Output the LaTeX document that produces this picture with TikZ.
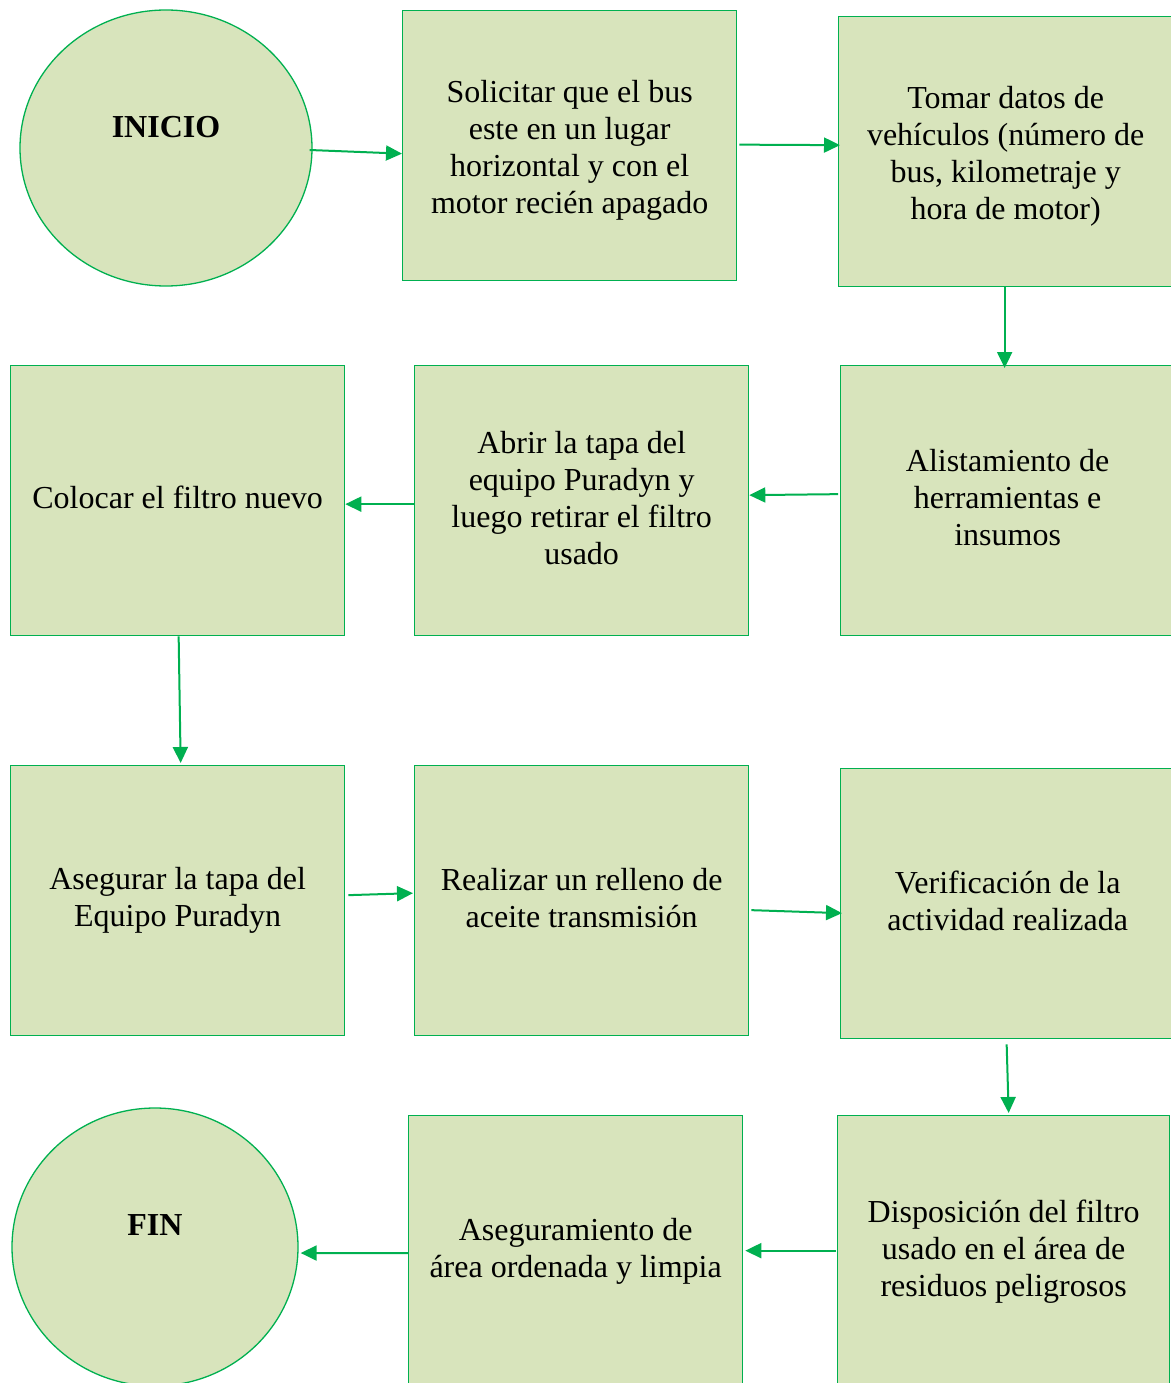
\documentclass[tikz,border=0pt]{standalone}
\usepackage{fontspec}
\setmainfont{Liberation Serif}
\usetikzlibrary{arrows.meta,shapes.geometric}
\definecolor{boxfill}{HTML}{D8E4BC}
\definecolor{edgegreen}{HTML}{00B050}
\begin{document}
\begin{tikzpicture}[x=1pt,y=-1pt,
  stepbox/.style={draw=edgegreen, fill=boxfill, line width=1.3pt,
    minimum width=334pt, minimum height=270pt, anchor=north west,
    inner sep=0pt},
  steptext/.style={align=center, inner sep=0pt,
    font=\fontsize{32}{37}\selectfont},
  endpoint/.style={ellipse, draw=edgegreen, fill=boxfill, line width=1.3pt,
    inner sep=0pt},
  endlabel/.style={font=\bfseries\fontsize{32}{37}\selectfont},
  arr/.style={draw=edgegreen, line width=2pt,
    -{Triangle[length=16pt,width=15pt]}}]
\useasboundingbox (0,0) rectangle (1170,1383);

% start and end
\node[endpoint, minimum width=292pt, minimum height=276pt] (inicio) at (166,148) {};
\node[endlabel] (inicioT) at (166,127) {INICIO};
\node[endpoint, minimum width=286pt, minimum height=278pt] (fin) at (155,1247) {};
\node[endlabel] (finT) at (155,1225) {FIN};

% boxes
\node[stepbox] (b1) at (402,10) {};
\node[stepbox] (b2) at (838,16) {};
\node[stepbox] (b3) at (840,365) {};
\node[stepbox] (b4) at (414,365) {};
\node[stepbox] (b5) at (10,365) {};
\node[stepbox] (b6) at (10,765) {};
\node[stepbox] (b7) at (414,765) {};
\node[stepbox] (b8) at (840,768) {};
\node[stepbox, minimum width=332pt, minimum height=275pt] (b9) at (837,1115) {};
\node[stepbox, minimum height=275pt] (b10) at (408,1115) {};

% box texts
\node[steptext] (t1) at ([yshift=-5pt]b1.center) {Solicitar que el bus\\este en un lugar\\horizontal y con el\\motor recién apagado};
\node[steptext] (t2) at ([yshift=-5pt]b2.center) {Tomar datos de\\vehículos (número de\\bus, kilometraje y\\hora de motor)};
\node[steptext] (t3) at ([yshift=3pt]b3.center) {Alistamiento de\\herramientas e\\insumos};
\node[steptext] (t4) at ([yshift=3pt]b4.center) {Abrir la tapa del\\equipo Puradyn y\\luego retirar el filtro\\usado};
\node[steptext] (t5) at ([yshift=3pt]b5.center) {Colocar el filtro nuevo};
\node[steptext] (t6) at (b6.center) {Asegurar la tapa del\\Equipo Puradyn};
\node[steptext] (t7) at ([yshift=3pt]b7.center) {Realizar un relleno de\\aceite transmisión};
\node[steptext] (t8) at ([yshift=3pt]b8.center) {Verificación de la\\actividad realizada};
\node[steptext] (t9) at ([yshift=1.5pt]b9.center) {Disposición del filtro\\usado en el área de\\residuos peligrosos};
\node[steptext] (t10) at ([yshift=2pt]b10.center) {Aseguramiento de\\área ordenada y limpia};

% connectors
\draw[arr] ([xshift=-3pt,yshift=-2pt]inicio.east) -- ([yshift=-8pt]b1.west);
\draw[arr] ([xshift=2pt,yshift=1pt]b1.east) -- ([xshift=2pt,yshift=6.5pt]b2.west);
\draw[arr] ([xshift=-1pt]b2.south) -- ([xshift=-3pt,yshift=-3pt]b3.north);
\draw[arr] ([xshift=-2pt,yshift=6.5pt]b3.west) -- ([yshift=5.5pt]b4.east);
\draw[arr] ([yshift=-3.5pt]b4.west) -- ([yshift=-3.5pt]b5.east);
\draw[arr] ([xshift=1pt]b5.south) -- ([xshift=3pt,yshift=2pt]b6.north);
\draw[arr] ([xshift=3pt,yshift=5.5pt]b6.east) -- ([xshift=-1pt,yshift=7.5pt]b7.west);
\draw[arr] ([xshift=2pt,yshift=-9.5pt]b7.east) -- ([xshift=2pt,yshift=-9.5pt]b8.west);
\draw[arr] ([xshift=-1pt,yshift=-5pt]b8.south) -- ([xshift=5pt,yshift=2pt]b9.north);
\draw[arr] ([xshift=-1pt,yshift=2.5pt]b9.west) -- ([xshift=2pt,yshift=2.5pt]b10.east);
\draw[arr] (b10.west) -- ([xshift=2pt,yshift=-6pt]fin.east);
\end{tikzpicture}
\end{document}
